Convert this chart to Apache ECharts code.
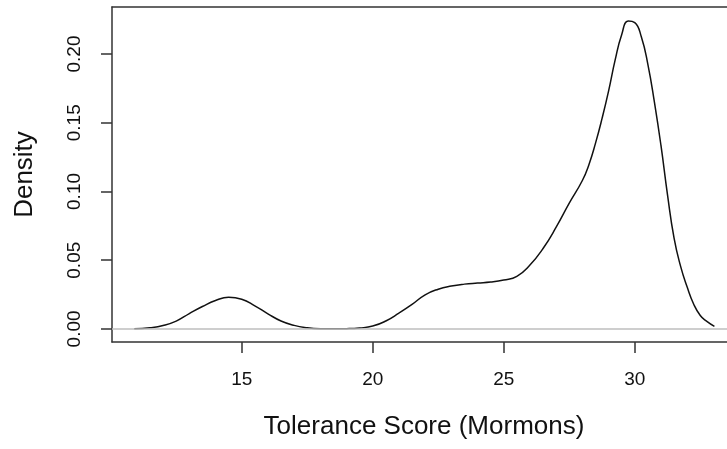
<!DOCTYPE html>
<html><head><meta charset="utf-8">
<script src="https://cdn.jsdelivr.net/npm/echarts@6/dist/echarts.min.js"></script>
<style>html,body{margin:0;padding:0;background:#fff}#c{width:727px;height:449px}</style>
</head><body><div id="c"></div>
<script>
// Tolerance score values (x) and estimated kernel density (y)
const scores = [10.9, 11.5, 12.0, 12.5, 13.0, 13.5, 14.0, 14.5, 15.0, 15.5, 16.0, 16.5, 17.0, 17.5, 18.0,
  18.5, 19.0, 19.5, 20.0, 20.5, 21.0, 21.5, 22.0, 22.5, 23.0, 23.5, 24.0, 24.5, 25.0, 25.5, 26.0, 26.5,
  27.0, 27.5, 28.0, 28.25, 28.5, 28.75, 29.0, 29.25, 29.5, 29.75, 30.0, 30.25, 30.5, 30.75, 31.0, 31.25,
  31.5, 31.75, 32.0, 32.25, 32.5, 32.75, 33.04];
const density = [0.0001, 0.0009, 0.0025, 0.0057, 0.0112, 0.0163, 0.0207, 0.0231, 0.0216, 0.0168, 0.0110, 0.0058, 0.0026, 0.0009, 0.0002,
  0.0001, 0.0002, 0.0007, 0.0021, 0.0058, 0.0115, 0.0178, 0.0248, 0.0289, 0.0312, 0.0326, 0.0334, 0.0341, 0.0356, 0.0383, 0.0465, 0.0585,
  0.0740, 0.0915, 0.1080, 0.1195, 0.1350, 0.1530, 0.1730, 0.1955, 0.2140, 0.2240, 0.2228, 0.2125, 0.1925, 0.1650, 0.1335, 0.0975,
  0.0660, 0.0455, 0.0305, 0.0180, 0.0098, 0.0055, 0.0019];
const xTicks = [15, 20, 25, 30];
const yTicks = [0, 0.05, 0.10, 0.15, 0.20];
const xTitle = 'Tolerance Score (Mormons)';
const yTitle = 'Density';
const xRange = [10.05, 33.52];
const yRange = [-0.0095, 0.2342];

const font = 'Liberation Sans, Arial, sans-serif';
const curve = scores.map((s, i) => [s, density[i]]);
const boxLine = {color: '#333', width: 1.5};
const chart = echarts.init(document.getElementById('c'), null, {renderer: 'canvas'});
chart.setOption({
  animation: false,
  backgroundColor: '#fff',
  grid: {left: 112, top: 7, right: 0, bottom: 107, show: false},
  xAxis: [{
    type: 'value', min: xRange[0], max: xRange[1], position: 'bottom',
    name: xTitle, nameLocation: 'middle', nameGap: 72,
    nameTextStyle: {fontFamily: font, fontSize: 26, color: '#111', padding: [0, 0, 0, 9]},
    axisLine: {show: true, onZero: false, lineStyle: boxLine},
    splitLine: {show: false},
    axisTick: {show: true, inside: false, length: 11, customValues: xTicks, lineStyle: boxLine},
    axisLabel: {customValues: xTicks, margin: 28, fontFamily: font, fontSize: 19, color: '#111',
      formatter: v => String(Math.round(v))}
  }, {
    type: 'value', min: xRange[0], max: xRange[1], position: 'top',
    axisLine: {show: true, onZero: false, lineStyle: boxLine},
    axisTick: {show: false}, axisLabel: {show: false}, splitLine: {show: false}
  }],
  yAxis: {
    type: 'value', min: yRange[0], max: yRange[1], position: 'left',
    name: yTitle, nameLocation: 'middle', nameGap: 74, nameRotate: 90,
    nameTextStyle: {fontFamily: font, fontSize: 26, color: '#111'},
    axisLine: {show: true, onZero: false, lineStyle: boxLine},
    splitLine: {show: false},
    axisTick: {show: true, inside: false, length: 11, customValues: yTicks, lineStyle: boxLine},
    axisLabel: {customValues: yTicks, margin: 28, rotate: 90, fontFamily: font, fontSize: 19, color: '#111',
      formatter: v => v.toFixed(2)}
  },
  series: [
    {type: 'line', data: curve, smooth: 0.5, symbol: 'none', z: 2,
      lineStyle: {color: '#111', width: 1.5}},
    {type: 'line', data: [[xRange[0], 0], [xRange[1], 0]], symbol: 'none', z: 3, silent: true,
      lineStyle: {color: '#bebebe', width: 1.5}}
  ]
});
</script></body></html>
